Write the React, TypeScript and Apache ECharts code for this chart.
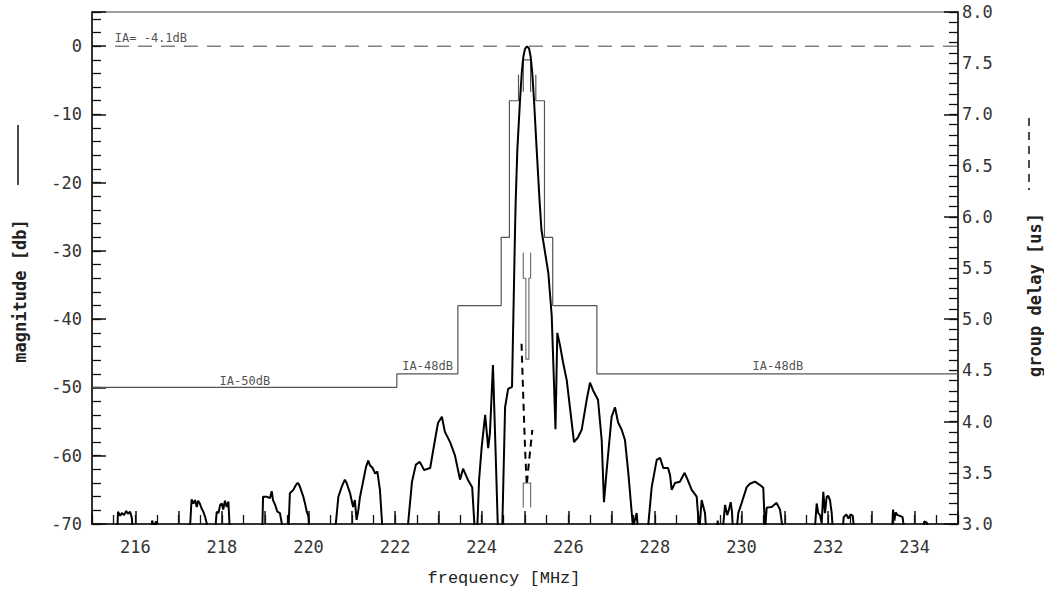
import React, { useEffect, useRef } from 'react';
import * as echarts from 'echarts';

// Axis ranges
const FREQ_MIN = 215;
const FREQ_MAX = 235;
const MAG_MIN = -70;
const MAG_MAX = 5;
const DELAY_MIN = 3;
const DELAY_MAX = 8;

// Magnitude response [MHz, dB] (values below -70 fall off the plot)
const magnitude: [number, number][] = [
  [215.0, -72],
  [215.58, -72], [215.6, -68.2], [215.65, -68.8], [215.69, -68.4], [215.74, -68.7], [215.79, -68.1], [215.83, -68.5], [215.88, -68.2], [215.92, -69.1], [215.95, -72],
  [216.34, -72], [216.39, -69.5], [216.43, -70.5], [216.48, -69.6], [216.52, -72],
  [217.25, -72], [217.3, -66.4], [217.34, -67.0], [217.38, -66.5], [217.42, -67.5], [217.45, -66.6], [217.49, -67.0], [217.53, -67.7], [217.57, -68.2], [217.61, -68.9], [217.65, -69.9], [217.67, -72],
  [217.83, -72], [217.88, -68.2], [217.92, -68.4], [217.96, -67.2], [218.0, -67.0], [218.03, -67.9], [218.07, -66.6], [218.11, -67.5], [218.15, -66.7], [218.19, -72],
  [218.93, -72], [218.95, -66.0], [219.03, -66.0], [219.11, -66.2], [219.15, -65.2], [219.18, -66.5], [219.23, -67.2], [219.28, -68.2], [219.34, -68.4], [219.38, -69.8], [219.4, -72],
  [219.53, -72], [219.57, -65.5], [219.65, -65.0], [219.69, -64.5], [219.73, -64.1], [219.76, -64.0], [219.8, -64.5], [219.88, -66.0], [219.92, -67.0], [219.96, -68.2], [220.0, -68.9], [220.03, -72],
  [220.6, -72], [220.69, -66.0], [220.77, -64.5], [220.84, -63.5], [220.88, -64.0], [220.96, -65.5], [221.03, -67.5], [221.07, -66.5], [221.11, -69.4], [221.15, -68.0],
  [221.19, -66.0], [221.27, -63.5], [221.33, -61.6], [221.38, -60.7], [221.42, -61.4], [221.48, -61.8], [221.54, -62.6], [221.59, -62.3], [221.65, -65.0], [221.72, -72],
  [222.27, -72], [222.39, -63.8], [222.48, -61.3], [222.57, -60.9], [222.67, -62.1], [222.81, -61.8], [222.88, -59.2], [222.99, -55.2], [223.08, -54.3], [223.15, -56.5], [223.27, -58.0], [223.38, -59.9], [223.5, -63.5], [223.57, -61.9], [223.68, -63.5], [223.78, -64.6], [223.85, -72],
  [223.89, -72], [223.94, -63.5], [224.0, -58.7], [224.08, -54.0], [224.15, -58.9], [224.19, -56.7], [224.26, -46.7], [224.32, -59.2], [224.38, -72],
  [224.47, -72], [224.54, -52.9], [224.61, -50.2], [224.7, -49.9], [224.77, -26.9], [224.786, -22.5], [224.823, -15.2], [224.885, -7.9], [224.924, -4.0], [224.961, -1.6], [225.0, -0.4], [225.046, -0.05], [225.092, -0.3], [225.132, -1.6], [225.169, -4.0], [225.208, -7.9], [225.27, -15.2], [225.335, -22.5], [225.38, -26.9], [225.54, -33.3], [225.617, -39.5], [225.67, -49.5], [225.704, -56.1], [225.746, -42.0], [225.808, -43.8], [225.878, -46.3], [225.963, -48.9], [226.039, -53.0], [226.132, -58.0], [226.224, -57.3], [226.309, -56.2], [226.425, -51.8], [226.501, -49.3], [226.57, -50.4], [226.686, -51.8], [226.771, -57.7], [226.824, -66.8], [226.886, -62.1], [227.0, -54.3], [227.079, -52.9], [227.148, -55.1], [227.233, -56.2], [227.309, -57.7], [227.386, -62.5], [227.494, -70.5], [227.58, -68.4], [227.62, -72],
  [227.82, -72], [227.926, -64.6], [228.042, -60.6], [228.118, -60.3], [228.194, -61.8], [228.303, -61.8], [228.349, -62.8], [228.388, -65.0], [228.464, -64.0], [228.577, -63.8], [228.686, -62.5], [228.755, -63.5], [228.85, -65.0], [228.965, -66.0], [229.025, -71], [229.08, -66.5], [229.157, -68.4], [229.196, -72],
  [229.42, -72], [229.45, -69.5], [229.48, -72],
  [229.55, -72], [229.62, -67.2], [229.67, -68.7], [229.71, -67.9], [229.75, -66.8], [229.78, -68.2], [229.81, -72],
  [229.87, -72], [229.926, -68.4], [230.004, -66.9], [230.12, -64.6], [230.196, -64.1], [230.312, -63.8], [230.427, -64.3], [230.503, -64.7], [230.543, -71], [230.582, -67.6], [230.697, -67.5], [230.811, -66.9], [230.889, -67.9], [230.98, -72],
  [231.68, -72], [231.736, -67.0], [231.773, -68.4], [231.813, -68.7], [231.852, -69.9], [231.889, -65.3], [231.928, -68.4], [231.967, -66.0], [232.004, -65.9], [232.044, -66.5], [232.083, -68.4], [232.12, -72],
  [232.32, -72], [232.36, -69.0], [232.42, -68.6], [232.47, -69.2], [232.52, -68.6], [232.57, -68.8], [232.62, -72],
  [233.47, -72], [233.5, -67.9], [233.53, -69.5], [233.56, -68.3], [233.6, -68.7], [233.66, -68.8], [233.72, -69.0], [233.78, -72],
  [234.18, -72], [234.22, -69.6], [234.28, -69.8], [234.33, -72],
  [235.0, -72],
];

// Group delay [MHz, us]
const groupDelay: [number, number][] = [
  [224.92, 4.76], [224.96, 4.24], [225.0, 3.75], [225.04, 3.38], [225.09, 3.6], [225.17, 3.92],
];

// Magnitude tolerance mask [MHz, dB]
const maskLeft: [number, number][] = [
  [215, -50], [222.04, -50], [222.04, -48], [223.45, -48], [223.45, -38], [224.45, -38], [224.45, -28], [224.64, -28], [224.64, -8], [224.85, -8], [224.85, -4.2],
];
const maskRight: [number, number][] = [
  [225.25, -4.2], [225.25, -8], [225.45, -8], [225.45, -28], [225.64, -28], [225.64, -38], [226.66, -38], [226.66, -48], [235, -48],
];
const maskInner: [number, number][] = [
  [224.96, -6.7], [224.96, -2.0], [225.13, -2.0], [225.13, -6.7],
];

// Group delay mask [MHz, us]
const delayMaskUpper: [number, number][] = [
  [224.96, 5.65], [224.96, 5.4], [225.02, 5.4], [225.02, 4.61], [225.09, 4.61], [225.09, 5.4], [225.13, 5.4], [225.13, 5.65],
];
const delayMaskLower: [number, number][] = [
  [224.96, 3.16], [224.96, 3.4], [225.13, 3.4], [225.13, 3.16],
];

// Reference level
const refLine: [number, number][] = [[215.53, 0], [235, 0]];

// Annotations [MHz, dB, text]
const annotations: [number, number, string][] = [
  [216.36, 1.17, 'IA= -4.1dB'],
  [218.53, -49.05, 'IA-50dB'],
  [222.75, -46.9, 'IA-48dB'],
  [230.84, -46.9, 'IA-48dB'],
];

const MONO = '"DejaVu Sans Mono", monospace';
const INK = '#111';
const tickLabel = { fontFamily: MONO, fontSize: 17, color: '#333' };

function buildOption(): any {
  const lineSeries = (name: string, data: any[], style: any, yIndex = 0, z = 2) => ({
    name,
    type: 'line',
    xAxisIndex: 0,
    yAxisIndex: yIndex,
    data,
    showSymbol: false,
    symbol: 'none',
    silent: true,
    z,
    lineStyle: style,
  });
  const hiddenLine = { show: false, onZero: false };
  return {
    animation: false,
    backgroundColor: '#fff',
    grid: {
      left: 92, right: 86, top: 12, bottom: 72,
      show: true, borderColor: '#808080', borderWidth: 1.5, backgroundColor: 'transparent',
    },
    xAxis: [
      {
        type: 'value', min: FREQ_MIN, max: FREQ_MAX, interval: 1, position: 'bottom',
        axisLine: { show: true, onZero: false, lineStyle: { color: INK, width: 1.5 } },
        axisTick: { show: true, inside: true, length: 13, lineStyle: { color: INK, width: 1.5 } },
        axisLabel: { ...tickLabel, margin: 14, formatter: (v: number) => (Math.round(v) % 2 === 0 ? String(Math.round(v)) : '') },
        splitLine: { show: false },
      },
      {
        type: 'value', min: FREQ_MIN, max: FREQ_MAX, interval: 0.5, position: 'bottom',
        axisLine: hiddenLine,
        axisTick: { show: true, inside: true, length: 9, lineStyle: { color: INK, width: 1.3 } },
        axisLabel: { show: false },
        splitLine: { show: false },
      },
    ],
    yAxis: [
      {
        type: 'value', min: MAG_MIN, max: MAG_MAX, interval: 10, position: 'left',
        axisLine: { show: true, onZero: false, lineStyle: { color: INK, width: 1.5 } },
        axisTick: { show: true, inside: true, length: 14, lineStyle: { color: INK, width: 1.5 } },
        axisLabel: { ...tickLabel, margin: 10, formatter: (v: number) => (v > 0 ? '' : String(v)) },
        splitLine: { show: false },
      },
      {
        type: 'value', min: MAG_MIN, max: MAG_MAX, interval: 2, position: 'left',
        axisLine: hiddenLine,
        axisTick: { show: true, inside: true, length: 9, lineStyle: { color: INK, width: 1.3 } },
        axisLabel: { show: false },
        splitLine: { show: false },
      },
      {
        type: 'value', min: DELAY_MIN, max: DELAY_MAX, interval: 0.5, position: 'right',
        axisLine: { show: true, onZero: false, lineStyle: { color: INK, width: 1.5 } },
        axisTick: { show: false },
        axisLabel: { ...tickLabel, margin: 4, formatter: (v: number) => v.toFixed(1) },
        splitLine: { show: false },
      },
      {
        type: 'value', min: DELAY_MIN, max: DELAY_MAX, interval: 0.1, position: 'right',
        axisLine: hiddenLine,
        axisTick: { show: true, inside: true, length: 9, lineStyle: { color: INK, width: 1.3 } },
        axisLabel: { show: false },
        splitLine: { show: false },
      },
      {
        type: 'value', min: DELAY_MIN, max: DELAY_MAX, interval: 1, position: 'right',
        axisLine: hiddenLine,
        axisTick: { show: true, inside: true, length: 14, lineStyle: { color: INK, width: 1.5 } },
        axisLabel: { show: false },
        splitLine: { show: false },
      },
    ],
    series: [
      lineSeries('reference', refLine, { color: '#808080', width: 1.5, type: [14, 9] }),
      lineSeries('mask-left', maskLeft, { color: '#555', width: 1.2 }),
      lineSeries('mask-right', maskRight, { color: '#555', width: 1.2 }),
      lineSeries('mask-inner', maskInner, { color: '#555', width: 1.2 }),
      lineSeries('delay-mask-upper', delayMaskUpper, { color: '#666', width: 1.1 }, 2),
      lineSeries('delay-mask-lower', delayMaskLower, { color: '#666', width: 1.1 }, 2),
      lineSeries('magnitude', magnitude, { color: '#000', width: 2 }, 0, 5),
      lineSeries('group delay', groupDelay, { color: '#000', width: 2, type: [7, 5] }, 2, 5),
      {
        name: 'annotations',
        type: 'scatter',
        xAxisIndex: 0,
        yAxisIndex: 0,
        data: annotations,
        symbolSize: 1,
        silent: true,
        itemStyle: { color: 'rgba(0,0,0,0)' },
        label: {
          show: true,
          position: 'inside',
          formatter: (p: any) => p.value[2],
          fontFamily: MONO,
          fontSize: 12,
          color: '#222',
        },
        z: 6,
      },
    ],
    graphic: [
      {
        type: 'line', silent: true,
        shape: { x1: 18, y1: 125, x2: 18, y2: 185 },
        style: { stroke: INK, lineWidth: 1.5 },
      },
      {
        type: 'line', silent: true,
        shape: { x1: 1029, y1: 118, x2: 1029, y2: 190 },
        style: { stroke: INK, lineWidth: 1.5, lineDash: [8, 6] },
      },
      {
        type: 'text', x: 20, y: 291, rotation: Math.PI / 2, silent: true,
        style: {
          text: 'magnitude [db]', fontFamily: MONO, fontSize: 17, fontWeight: 'bold', fill: '#222',
          align: 'center', verticalAlign: 'middle', textAlign: 'center', textVerticalAlign: 'middle',
        },
      },
      {
        type: 'text', x: 1035, y: 295, rotation: Math.PI / 2, silent: true,
        style: {
          text: 'group delay [us]', fontFamily: MONO, fontSize: 17, fontWeight: 'bold', fill: '#222',
          align: 'center', verticalAlign: 'middle', textAlign: 'center', textVerticalAlign: 'middle',
        },
      },
      {
        type: 'text', x: 504, y: 578, silent: true,
        style: {
          text: 'frequency [MHz]', fontFamily: '"Liberation Mono", monospace', fontSize: 17, fill: '#222',
          align: 'center', verticalAlign: 'middle', textAlign: 'center', textVerticalAlign: 'middle',
        },
      },
    ],
  };
}

export default function App() {
  const ref = useRef<HTMLDivElement>(null);
  useEffect(() => {
    if (!ref.current) return;
    const chart = echarts.init(ref.current, null, { renderer: 'svg' });
    chart.setOption(buildOption());
    return () => chart.dispose();
  }, []);
  return (
    <div
      ref={ref}
      style={{ position: 'fixed', left: 0, top: 0, width: 1044, height: 596, background: '#fff' }}
    />
  );
}
